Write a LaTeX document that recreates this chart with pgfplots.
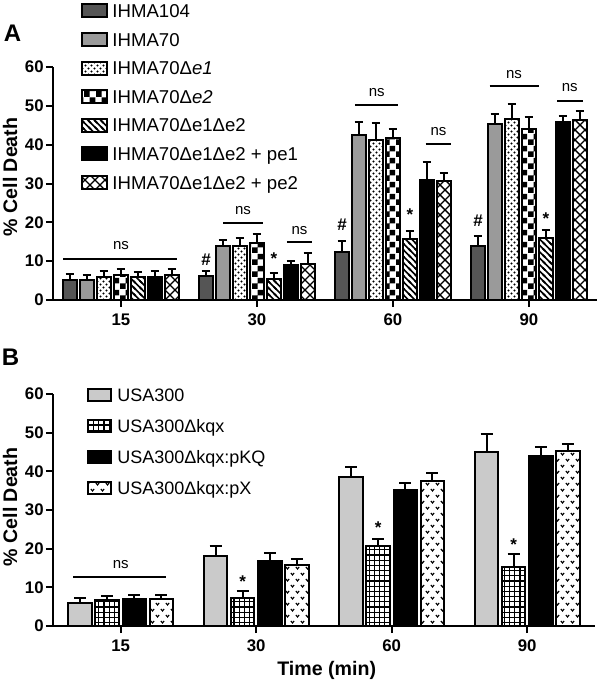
\documentclass[border=0pt]{standalone}
\usepackage{fontspec}
\setmainfont{Liberation Sans}
\usepackage{pgfplots}
\pgfplotsset{compat=1.18}
\usepackage{pgfplotstable}
\usetikzlibrary{patterns}

\pgfdeclarepatternformonly{mydots}{\pgfqpoint{-1pt}{-1pt}}{\pgfqpoint{4pt}{4pt}}{\pgfqpoint{3pt}{3pt}}{%
  \pgfpathcircle{\pgfqpoint{0.75pt}{0.75pt}}{0.55pt}%
  \pgfpathcircle{\pgfqpoint{2.25pt}{2.25pt}}{0.55pt}%
  \pgfusepath{fill}}
\pgfdeclarepatternformonly{mychecker}{\pgfpointorigin}{\pgfqpoint{6pt}{6pt}}{\pgfqpoint{6pt}{6pt}}{%
  \pgfpathrectangle{\pgfpointorigin}{\pgfqpoint{3pt}{3pt}}%
  \pgfpathrectangle{\pgfqpoint{3pt}{3pt}}{\pgfqpoint{3pt}{3pt}}%
  \pgfusepath{fill}}
\pgfdeclarepatternformonly{mystripes}{\pgfqpoint{-1pt}{-1pt}}{\pgfqpoint{4.2pt}{4.2pt}}{\pgfqpoint{3.2pt}{3.2pt}}{%
  \pgfsetlinewidth{0.8pt}%
  \pgfpathmoveto{\pgfqpoint{0pt}{3.2pt}}\pgfpathlineto{\pgfqpoint{3.2pt}{0pt}}%
  \pgfpathmoveto{\pgfqpoint{-0.6pt}{0.6pt}}\pgfpathlineto{\pgfqpoint{0.6pt}{-0.6pt}}%
  \pgfpathmoveto{\pgfqpoint{2.6pt}{3.8pt}}\pgfpathlineto{\pgfqpoint{3.8pt}{2.6pt}}%
  \pgfusepath{stroke}}
\pgfdeclarepatternformonly{mycross}{\pgfqpoint{-1pt}{-1pt}}{\pgfqpoint{6pt}{6pt}}{\pgfqpoint{5pt}{5pt}}{%
  \pgfsetlinewidth{0.7pt}%
  \pgfpathmoveto{\pgfqpoint{0pt}{0pt}}\pgfpathlineto{\pgfqpoint{5pt}{5pt}}%
  \pgfpathmoveto{\pgfqpoint{0pt}{5pt}}\pgfpathlineto{\pgfqpoint{5pt}{0pt}}%
  \pgfusepath{stroke}}
\pgfdeclarepatternformonly{mygrid}{\pgfqpoint{-0.5pt}{-0.5pt}}{\pgfqpoint{3pt}{3pt}}{\pgfqpoint{2.6pt}{2.6pt}}{%
  \pgfsetlinewidth{0.55pt}%
  \pgfpathmoveto{\pgfqpoint{0pt}{-0.5pt}}\pgfpathlineto{\pgfqpoint{0pt}{3pt}}%
  \pgfpathmoveto{\pgfqpoint{-0.5pt}{0pt}}\pgfpathlineto{\pgfqpoint{3pt}{0pt}}%
  \pgfusepath{stroke}}
\pgfdeclarepatternformonly{myvees}{\pgfqpoint{-1pt}{-1pt}}{\pgfqpoint{6pt}{7pt}}{\pgfqpoint{5pt}{6pt}}{%
  \pgfsetlinewidth{0.55pt}%
  \pgfpathmoveto{\pgfqpoint{0.45pt}{2.05pt}}\pgfpathlineto{\pgfqpoint{1.25pt}{1.0pt}}\pgfpathlineto{\pgfqpoint{2.05pt}{2.05pt}}%
  \pgfpathmoveto{\pgfqpoint{2.95pt}{5.05pt}}\pgfpathlineto{\pgfqpoint{3.75pt}{4.0pt}}\pgfpathlineto{\pgfqpoint{4.55pt}{5.05pt}}%
  \pgfusepath{stroke}}

\definecolor{dk}{HTML}{555555}
\definecolor{md}{HTML}{9A9A9A}
\definecolor{lt}{HTML}{CACACA}

\pgfplotstableread{
x a ea b eb c ec d ed e ee f ef g eg
0 5.2 1.5 5.2 1.3 5.8 1.7 6.4 1.7 6.0 1.1 5.8 1.6 6.4 1.6
1 6.2 1.3 14.0 1.5 13.8 2.1 14.7 2.3 5.5 1.4 9.1 1.0 9.3 2.7
2 12.4 2.8 42.4 3.5 41.2 4.3 41.6 2.5 15.7 2.0 30.8 4.8 30.6 2.0
3 13.9 2.6 45.4 2.4 46.5 4.1 44.0 3.0 15.9 2.1 45.9 1.5 46.4 2.3
}\dataA

\pgfplotstableread{
x a ea b eb c ec d ed
0 6.0 1.2 6.7 1.1 6.9 1.0 6.9 1.0
1 18.2 2.6 7.2 1.9 16.9 2.1 15.9 1.5
2 38.6 2.6 20.8 1.6 35.3 1.8 37.6 1.9
3 45.0 4.7 15.3 3.3 44.0 2.3 45.3 1.8
}\dataB

\pgfplotsset{
  cellaxis/.style={
    scale only axis, axis lines=left, axis line style={-, line width=1pt},
    xmin=-0.5, xmax=3.5, ymin=0, ymax=60, ytick={0,10,...,60},
    xtick={0,1,2,3}, xticklabels={15,30,60,90},
    tick align=outside, major tick length=3.5pt, tick style={line width=1pt, black},
    ticklabel style={font=\bfseries\fontsize{8.4}{9}\selectfont},
    yticklabel style={inner sep=1pt},
    /pgf/number format/assume math mode=true,
    ylabel={\% Cell Death}, ylabel style={font=\bfseries\fontsize{9.8}{11}\selectfont},
    clip=false,
    legend cell align=left,
    error bars/y dir=plus, error bars/y explicit,
    error bars/error bar style={line width=1pt, black, solid},
    every axis plot/.append style={draw=black, line width=1pt},
  },
}

\begin{document}
\begin{tikzpicture}
\path[use as bounding box] (0,0) rectangle (300pt,342.5pt);

\node[font=\bfseries\fontsize{12}{14}\selectfont] at (6.25pt,325.75pt) {A};
\node[font=\bfseries\fontsize{12}{14}\selectfont] at (5.25pt,163.75pt) {B};

% Panel A
\begin{axis}[cellaxis,
  at={(26.5pt,192.5pt)}, anchor=south west, width=272pt, height=116.5pt,
  ybar=1.6pt, bar width=6.9pt,
  ylabel style={at={(axis description cs:-0.079,0.528)}, anchor=center},
  error bars/error mark options={rotate=90, mark size=2.2pt, line width=1pt, black},
  legend image code/.code={\draw[#1] (0pt,-3.25pt) rectangle (12.5pt,3.25pt);},
  legend style={at={(0.0515,1.2747)}, anchor=north west, draw=none, fill=none,
    font=\fontsize{9.3}{11}\selectfont, row sep=6.8pt, column sep=2pt, inner sep=0pt,
    nodes={inner sep=0pt, text height=6.6pt, text depth=0pt}},
]
\addplot[fill=dk] table[x=x,y=a,y error=ea]{\dataA};
\addplot[fill=md] table[x=x,y=b,y error=eb]{\dataA};
\addplot[pattern=mydots] table[x=x,y=c,y error=ec]{\dataA};
\addplot[pattern=mychecker] table[x=x,y=d,y error=ed]{\dataA};
\addplot[pattern=mystripes] table[x=x,y=e,y error=ee]{\dataA};
\addplot[fill=black] table[x=x,y=f,y error=ef]{\dataA};
\addplot[pattern=mycross] table[x=x,y=g,y error=eg]{\dataA};
\legend{IHMA104, IHMA70, IHMA70Δ\textit{e1}, IHMA70Δ\textit{e2}, IHMA70Δe1Δe2, IHMA70Δe1Δe2 + pe1, IHMA70Δe1Δe2 + pe2}

\begin{scope}[font=\fontsize{7.5}{9}\selectfont]
\draw[line width=1pt] (axis cs:-0.426,10.5) -- (axis cs:0.412,10.5);
\node at (axis cs:0,14.0) {ns};
\draw[line width=1pt] (axis cs:0.75,19.8) -- (axis cs:1.044,19.8);
\node at (axis cs:0.897,23.0) {ns};
\draw[line width=1pt] (axis cs:1.22,15.0) -- (axis cs:1.404,15.0);
\node at (axis cs:1.312,17.8) {ns};
\draw[line width=1pt] (axis cs:1.72,50.1) -- (axis cs:2.04,50.1);
\node at (axis cs:1.88,53.4) {ns};
\draw[line width=1pt] (axis cs:2.24,40.2) -- (axis cs:2.43,40.2);
\node at (axis cs:2.335,43.5) {ns};
\draw[line width=1pt] (axis cs:2.71,55.1) -- (axis cs:3.07,55.1);
\node at (axis cs:2.89,58.1) {ns};
\draw[line width=1pt] (axis cs:3.206,51.2) -- (axis cs:3.397,51.2);
\node at (axis cs:3.30,54.7) {ns};
\end{scope}
\begin{scope}[font=\bfseries\fontsize{8.5}{10}\selectfont]
\node at (axis cs:0.625,10.5) {\#};
\node at (axis cs:1.625,19.3) {\#};
\node at (axis cs:2.625,20.4) {\#};
\node at (axis cs:1.125,10.6) {*};
\node at (axis cs:2.125,21.9) {*};
\node at (axis cs:3.125,21.0) {*};
\end{scope}
\end{axis}

% Panel B
\begin{axis}[cellaxis,
  at={(26.5pt,29.5pt)}, anchor=south west, width=271pt, height=116pt,
  ybar=1.85pt, bar width=11.7pt,
  ylabel style={at={(axis description cs:-0.079,0.513)}, anchor=center},
  xlabel={Time (min)}, xlabel style={font=\bfseries\fontsize{9.8}{11}\selectfont,
    at={(axis description cs:0.505,-0.19)}, anchor=center},
  error bars/error mark options={rotate=90, mark size=3pt, line width=1pt, black},
  legend image code/.code={\draw[#1] (0pt,-3pt) rectangle (11.5pt,3pt);},
  legend style={at={(0.0627,1.026)}, anchor=north west, draw=none, fill=none,
    font=\fontsize{9}{11}\selectfont, row sep=8.5pt, column sep=2.5pt, inner sep=0pt,
    nodes={inner sep=0pt, text height=6.4pt, text depth=0pt}},
]
\addplot[fill=lt] table[x=x,y=a,y error=ea]{\dataB};
\addplot[pattern=mygrid] table[x=x,y=b,y error=eb]{\dataB};
\addplot[fill=black] table[x=x,y=c,y error=ec]{\dataB};
\addplot[pattern=myvees] table[x=x,y=d,y error=ed]{\dataB};
\legend{USA300, USA300Δkqx, USA300Δkqx:pKQ, USA300Δkqx:pX}

\draw[line width=1pt] (axis cs:-0.352,12.8) -- (axis cs:0.334,12.8);
\node[font=\fontsize{7.5}{9}\selectfont] at (axis cs:0,15.8) {ns};
\begin{scope}[font=\bfseries\fontsize{8.5}{10}\selectfont]
\node at (axis cs:0.9,11.4) {*};
\node at (axis cs:1.9,25.4) {*};
\node at (axis cs:2.9,21.1) {*};
\end{scope}
\end{axis}
\end{tikzpicture}
\end{document}
